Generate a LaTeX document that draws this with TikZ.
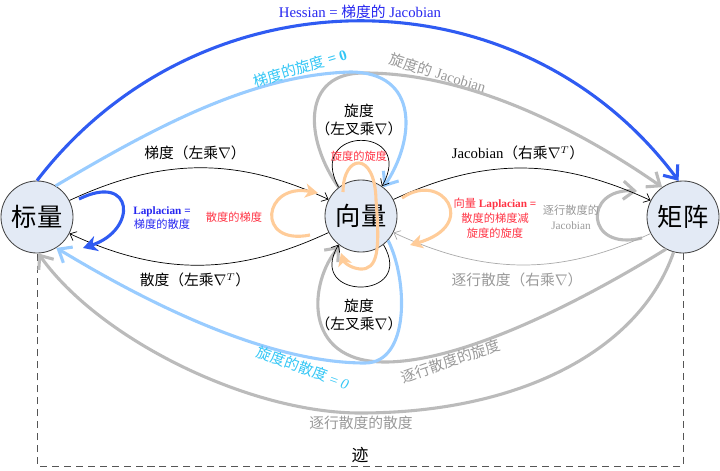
\documentclass[tikz,border=0pt]{standalone}
\usepackage{fontspec}
\usepackage{tikz}
\usetikzlibrary{positioning,arrows.meta,calc}
\setmainfont{Liberation Serif}
\newfontfamily\zh{Noto Sans CJK SC}
\newcommand\enword[1]{{\rmfamily#1}}
\definecolor{ink}{HTML}{444444}
\definecolor{nodefill}{HTML}{E3EAF5}
\definecolor{deepblue}{HTML}{2F5BF2}
\definecolor{bluetext}{HTML}{2626F0}
\definecolor{skyline}{HTML}{99CCFF}
\definecolor{skytext}{HTML}{33C6F5}
\definecolor{greyline}{HTML}{BBBBBB}
\definecolor{greytext}{HTML}{999999}
\definecolor{thingrey}{HTML}{AAAAAA}
\definecolor{peach}{HTML}{FFCC99}
\definecolor{redtext}{HTML}{FF3344}
\definecolor{tracegrey}{HTML}{555555}
\tikzset{
  space/.style={circle,draw=ink,line width=.6pt,fill=nodefill,minimum size=1.8cm,inner sep=0pt,font={\zh\fontsize{18}{20}\selectfont}},
  lbl/.style={align=center,inner sep=0pt,font={\zh\fontsize{10.5}{13}\selectfont}},
  small/.style={align=center,inner sep=0pt,font={\zh\fontsize{8}{10.5}\selectfont}},
  chevron/.style={line width=2.2pt,-{Straight Barb[length=8pt,width=13pt]}},
  bigblue/.style={chevron,draw=deepblue},
  skyarc/.style={chevron,draw=skyline},
  greyarc/.style={chevron,draw=greyline},
  peacharc/.style={draw=peach,line width=2.2pt,-{Stealth[length=9pt,width=10pt,inset=2.5pt]}},
  lapblue/.style={draw=deepblue,line width=2.2pt,-{Stealth[length=10pt,width=11pt,inset=3pt]}},
  thinarrow/.style={draw=black,line width=.5pt,-{Straight Barb[length=4pt,width=7pt]}},
  thinpale/.style={thinarrow,draw=thingrey},
  trace/.style={draw=tracegrey,line width=.7pt,dash pattern=on 5pt off 3.5pt}
}
\begin{document}
\begin{tikzpicture}[x=0.025cm,y=0.025cm]
\useasboundingbox (0,0) rectangle (720,470);
\node[space] (scalar) at (37,253) {标量};
\node[space] (vector) at (361,254) {向量};
\node[space] (matrix) at (683,253) {矩阵};
\coordinate (tracebot) at (360,4);

\draw[trace] (matrix.south) -- (matrix.south |- tracebot) -- (scalar.south |- tracebot) -- (scalar.south);
\draw[greyarc] (matrix.-105) .. controls (640,120) and (520,57) .. (360,57) .. controls (250,57) and (100,130) .. (scalar.-88);
\draw[greyarc] (matrix.-118) .. controls (600,180) and (470,108) .. (385,108) .. controls (300,108) and (310,190) .. (vector.-125);
\draw[skyarc] (vector.-42) .. controls (408,190) and (410,107) .. (365,107) .. controls (250,107) and (110,190) .. (scalar.-58);
\draw[greyarc] (vector.128) .. controls (305,330) and (300,398) .. (365,397) .. controls (470,397) and (580,340) .. (matrix.125);
\draw[skyarc] (scalar.59) .. controls (150,340) and (250,395) .. (350,398) .. controls (420,398) and (415,330) .. (vector.52);
\draw[bigblue] (scalar.90) .. controls (200,502) and (520,502) .. (matrix.97);
\draw[greyarc] ($(matrix)+(-41,-21)$) .. controls +(-57,-14) and +(-54,3) .. ($(matrix)+(-46,26)$);

\draw[thinarrow] (scalar.27) to[out=25,in=155] (vector.153);
\draw[thinarrow] (vector.207) to[out=205,in=-25] (scalar.-27);
\draw[thinarrow] (vector.27) to[out=25,in=155] (matrix.153);
\draw[thinpale] (matrix.207) to[out=205,in=-25] (vector.-27);
\draw[thinarrow] (vector.128) .. controls (305,345) and (417,345) .. (vector.55);
\draw[thinarrow] (vector.-52) .. controls (417,169) and (305,169) .. (vector.-128);

\draw[lapblue] ($(scalar)+(42,18)$) .. controls +(55,27) and +(55,18) .. ($(scalar)+(46,-31)$);
\draw[peacharc] ($(vector)+(-51,-19)$) .. controls +(-55,-11) and +(-55,10.5) .. ($(vector)+(-43,23)$);
\draw[peacharc] ($(vector)+(41,18)$) .. controls +(40,28) and +(70,20) .. ($(vector)+(49,-29)$);
\draw[peacharc] ($(vector)+(-18,24)$) .. controls +(0,38) and +(-1,50) .. ($(vector)+(15,16)$) .. controls +(4,-50) and +(18,-1) .. ($(vector)+(-1,-53)$) .. controls +(-10,1) and +(3,-9) .. ($(vector)+(-20,-37)$);

\node[lbl,text=bluetext] (hesslbl) at (360,458) {\enword{Hessian = }梯度的\enword{ Jacobian}};
\node[lbl,text=skytext,rotate=17] (curlgradlbl) at (300,402) {梯度的旋度\enword{ \bfseries= 0}};
\node[lbl,text=greytext,rotate=-17] (curljaclbl) at (438,397) {旋度的\enword{ Jacobian}};
\node[lbl] (gradlbl) at (195,317) {梯度（左乘$\nabla$）};
\node[lbl] (divlbl) at (195,190) {散度（左乘$\nabla^T$）};
\node[lbl] (jaclbl) at (518,317) {\enword{Jacobian}（右乘$\nabla^T$）};
\node[lbl,text=greytext] (rowdivlbl) at (517,190) {逐行散度（右乘$\nabla$）};
\node[lbl] (curltoplbl) at (359,350) {旋度\\（左叉乘$\nabla$）};
\node[lbl] (curlbotlbl) at (359,155) {旋度\\（左叉乘$\nabla$）};
\node[small,text=bluetext] (laplbl) at (162,252) {\enword{\bfseries Laplacian =}\\梯度的散度};
\node[small,text=redtext] (divgradlbl) at (234,253) {散度的梯度};
\node[small,text=redtext] (veclaplbl) at (495,252) {向量\enword{\bfseries\ Laplacian =}\\散度的梯度减\\旋度的旋度};
\node[small,text=redtext] (curlcurllbl) at (359,314) {旋度的旋度};
\node[small,text=greytext] (rowdivjaclbl) at (571,253) {逐行散度的\\\enword{Jacobian}};
\node[lbl,text=skytext,rotate=-20] (divcurllbl) at (303,102) {旋度的散度\enword{ = \itshape 0}};
\node[lbl,text=greytext,rotate=19] (rowdivcurllbl) at (451,109) {逐行散度的旋度};
\node[lbl,text=greytext] (rowdivdivlbl) at (361,47) {逐行散度的散度};
\node[lbl,font={\zh\fontsize{12}{14}\selectfont}] (tracelbl) at (360,15) {迹};
\end{tikzpicture}
\end{document}
